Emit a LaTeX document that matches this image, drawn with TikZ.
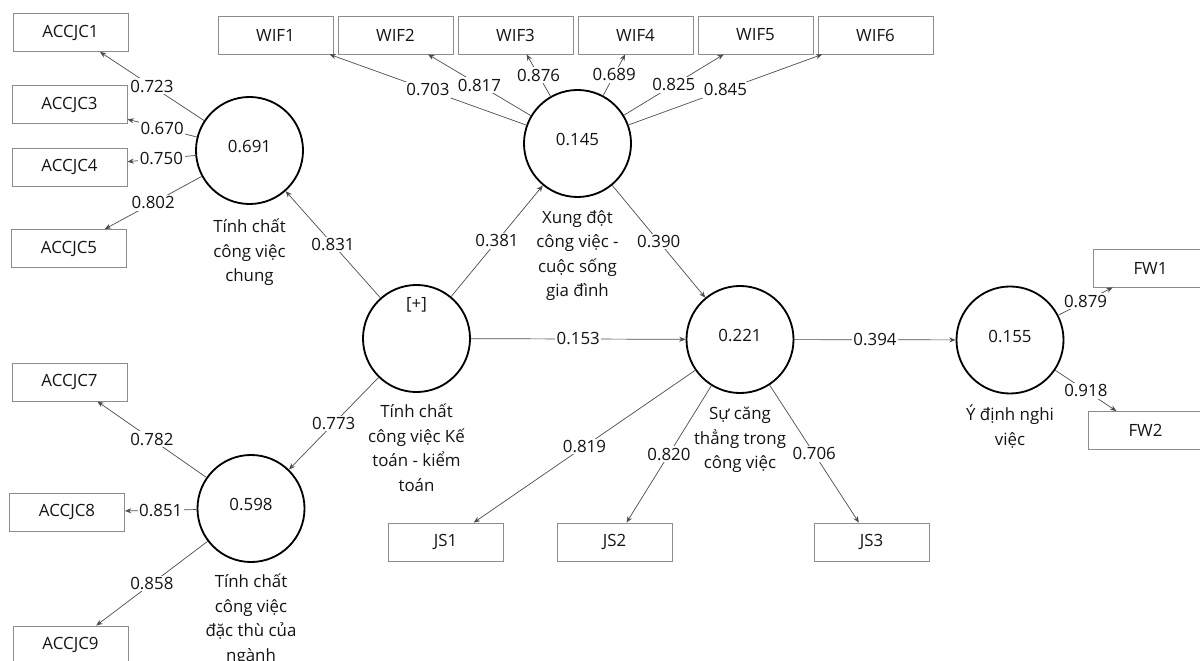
\documentclass[tikz,border=0pt]{standalone}
\usepackage{fontspec}
\setmainfont{Open Sans}
\usetikzlibrary{arrows.meta}
\begin{document}
\begin{tikzpicture}[x=0.025cm, y=-0.025cm, font=\fontsize{12}{17.4}\selectfont, text=black!92]
        \tikzstyle{ind} = [rectangle, minimum width=2.875cm, minimum height=0.95cm, text centered, draw=black!45, line width=0.6pt]
        \tikzstyle{lv} = [circle, minimum size=2.675cm, text centered, text height=0.6em, text depth=0.25em, draw=black, line width=1.3pt]
        \tikzstyle{lvname} = [align=center, anchor=north, inner sep=0pt, execute at begin node=\strut]
        \tikzstyle{arrow} = [->, >={Stealth[length=4.5pt, width=3.6pt]}, draw=black!70, line width=0.5pt]
        \tikzstyle{val} = [midway, fill=white, inner sep=1.2pt]
        \useasboundingbox (0, 0) rectangle (1200, 661);
        \node (c1) [ind] at (70.5, 32.5) {ACCJC1};
        \node (c3) [ind] at (69.5, 104.5) {ACCJC3};
        \node (c4) [ind] at (69.5, 167) {ACCJC4};
        \node (c5) [ind] at (69, 248.5) {ACCJC5};
        \node (c7) [ind] at (69.5, 382) {ACCJC7};
        \node (c8) [ind] at (67, 512) {ACCJC8};
        \node (c9) [ind] at (70.5, 645) {ACCJC9};
        \node (w1) [ind] at (275.5, 35) {WIF1};
        \node (w2) [ind] at (395.5, 35) {WIF2};
        \node (w3) [ind] at (515.5, 35) {WIF3};
        \node (w4) [ind] at (635.5, 35) {WIF4};
        \node (w5) [ind] at (755.5, 35) {WIF5};
        \node (w6) [ind] at (875.5, 35) {WIF6};
        \node (js1) [ind] at (445.5, 542) {JS1};
        \node (js2) [ind] at (614.5, 542) {JS2};
        \node (js3) [ind] at (871.5, 542) {JS3};
        \node (fw1) [ind] at (1150.5, 268) {FW1};
        \node (fw2) [ind] at (1145.5, 430.5) {FW2};
        \node (gen) [lv] at (249.5, 150.5) {0.691};
        \node (wif) [lv] at (577.5, 143.5) {0.145};
        \node (acc) [lv] at (416.5, 338.5) {};
        \node (spec) [lv] at (251, 508.5) {0.598};
        \node (js) [lv] at (740, 339.5) {0.221};
        \node (fw) [lv] at (1010, 340) {0.155};
        \node (plus) at (416.5, 305) {[+]};
        \node (genname) [lvname] at (249.5, 219) {Tính chất\\công việc\\chung};
        \node (wifname) [lvname] at (577.5, 210) {Xung đột\\công việc -\\cuộc sống\\gia đình};
        \node (accname) [lvname] at (416.5, 404) {Tính chất\\công việc Kế\\toán - kiểm\\toán};
        \node (specname) [lvname] at (251, 574) {Tính chất\\công việc\\đặc thù của\\ngành};
        \node (jsname) [lvname] at (740, 407) {Sự căng\\thẳng trong\\công việc};
        \node (fwname) [lvname] at (1010, 405) {Ý định nghi\\việc};
        \draw[arrow] (gen) to node[val] {0.723} (c1);
        \draw[arrow] (gen) to node[val] {0.670} (c3);
        \draw[arrow] (gen) to node[val] {0.750} (c4);
        \draw[arrow] (gen) to node[val] {0.802} (c5);
        \draw[arrow] (spec) to node[val] {0.782} (c7);
        \draw[arrow] (spec) to node[val] {0.851} (c8);
        \draw[arrow] (spec) to node[val] {0.858} (c9);
        \draw[arrow] (wif) to node[val] {0.703} (w1);
        \draw[arrow] (wif) to node[val] {0.817} (w2);
        \draw[arrow] (wif) to node[val] {0.876} (w3);
        \draw[arrow] (wif) to node[val] {0.689} (w4);
        \draw[arrow] (wif) to node[val] {0.825} (w5);
        \draw[arrow] (wif) to node[val] {0.845} (w6);
        \draw[arrow] (js) to node[val] {0.819} (js1);
        \draw[arrow] (js) to node[val] {0.820} (js2);
        \draw[arrow] (js) to node[val] {0.706} (js3);
        \draw[arrow] (fw) to node[val] {0.879} (fw1);
        \draw[arrow] (fw) to node[val] {0.918} (fw2);
        \draw[arrow] (acc) to node[val] {0.831} (gen);
        \draw[arrow] (acc) to node[val] {0.381} (wif);
        \draw[arrow] (acc) to node[val] {0.773} (spec);
        \draw[arrow] (acc) to node[val] {0.153} (js);
        \draw[arrow] (wif) to node[val] {0.390} (js);
        \draw[arrow] (js) to node[val] {0.394} (fw);
\end{tikzpicture}
\end{document}
